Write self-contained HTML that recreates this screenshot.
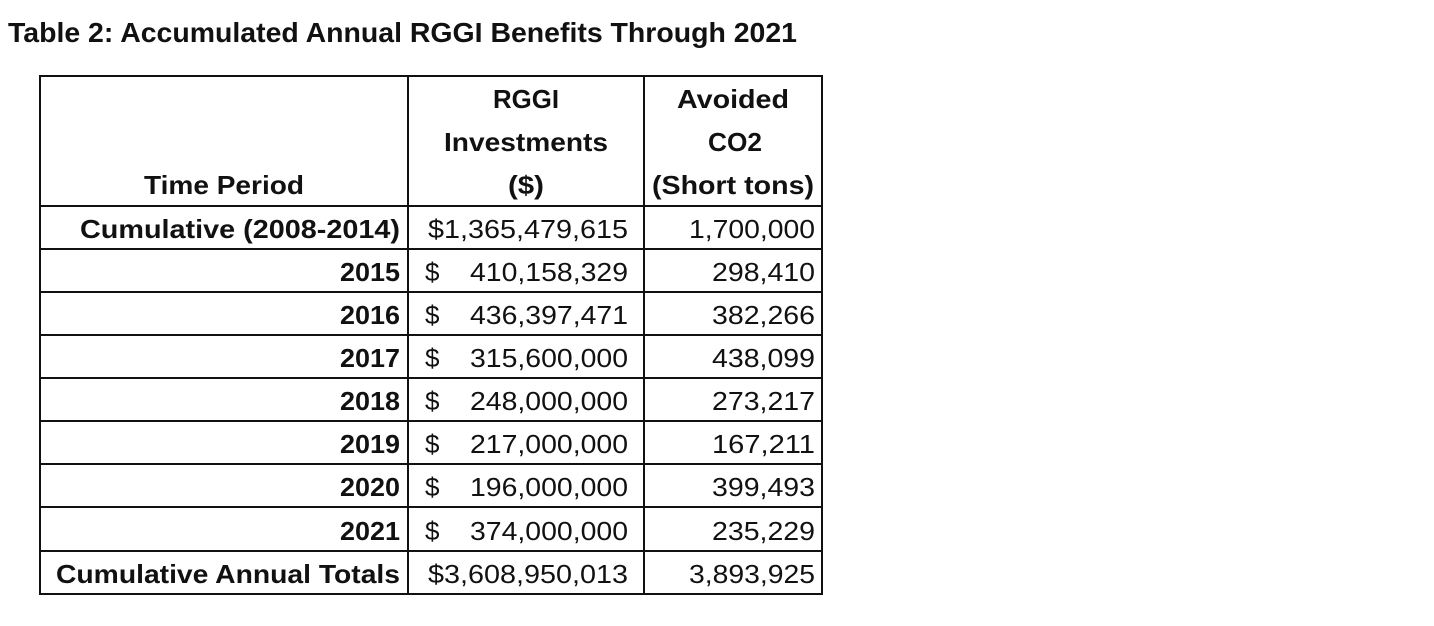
<!DOCTYPE html>
<html><head><meta charset="utf-8"><style>
html,body{margin:0;padding:0;background:#fff;width:1434px;height:626px;overflow:hidden}
svg text{font-family:"Liberation Sans",sans-serif;fill:#111;font-size:26px}
.b{font-weight:bold}
</style></head><body>
<svg width="1434" height="626" viewBox="0 0 1434 626" xmlns="http://www.w3.org/2000/svg">
<text x="8" y="42" class="b" style="font-size:28px" textLength="789" lengthAdjust="spacingAndGlyphs">Table 2: Accumulated Annual RGGI Benefits Through 2021</text>
<g stroke="#111" stroke-width="2" fill="none">
<rect x="40" y="76" width="782" height="518"/>
<line x1="408" y1="76" x2="408" y2="594"/>
<line x1="644" y1="76" x2="644" y2="594"/>
<line x1="40" y1="206" x2="822" y2="206"/>
<line x1="40" y1="249" x2="822" y2="249"/>
<line x1="40" y1="292" x2="822" y2="292"/>
<line x1="40" y1="335" x2="822" y2="335"/>
<line x1="40" y1="378" x2="822" y2="378"/>
<line x1="40" y1="421" x2="822" y2="421"/>
<line x1="40" y1="464" x2="822" y2="464"/>
<line x1="40" y1="507" x2="822" y2="507"/>
<line x1="40" y1="551" x2="822" y2="551"/>
</g>
<g>
<text x="526" y="108" text-anchor="middle" class="b" textLength="66" lengthAdjust="spacingAndGlyphs">RGGI</text>
<text x="526" y="151" text-anchor="middle" class="b" textLength="164" lengthAdjust="spacingAndGlyphs">Investments</text>
<text x="526" y="194" text-anchor="middle" class="b" textLength="36" lengthAdjust="spacingAndGlyphs">($)</text>
<text x="733" y="108" text-anchor="middle" class="b" textLength="112" lengthAdjust="spacingAndGlyphs">Avoided</text>
<text x="735" y="151" text-anchor="middle" class="b" textLength="54" lengthAdjust="spacingAndGlyphs">CO2</text>
<text x="733" y="194" text-anchor="middle" class="b" textLength="162" lengthAdjust="spacingAndGlyphs">(Short tons)</text>
<text x="224" y="194" text-anchor="middle" class="b" textLength="160" lengthAdjust="spacingAndGlyphs">Time Period</text>
<text x="400" y="238" text-anchor="end" class="b" textLength="320" lengthAdjust="spacingAndGlyphs">Cumulative (2008-2014)</text>
<text x="400" y="281" text-anchor="end" class="b" textLength="60" lengthAdjust="spacingAndGlyphs">2015</text>
<text x="400" y="324" text-anchor="end" class="b" textLength="60" lengthAdjust="spacingAndGlyphs">2016</text>
<text x="400" y="367" text-anchor="end" class="b" textLength="60" lengthAdjust="spacingAndGlyphs">2017</text>
<text x="400" y="410" text-anchor="end" class="b" textLength="60" lengthAdjust="spacingAndGlyphs">2018</text>
<text x="400" y="453" text-anchor="end" class="b" textLength="60" lengthAdjust="spacingAndGlyphs">2019</text>
<text x="400" y="496" text-anchor="end" class="b" textLength="60" lengthAdjust="spacingAndGlyphs">2020</text>
<text x="400" y="540" text-anchor="end" class="b" textLength="60" lengthAdjust="spacingAndGlyphs">2021</text>
<text x="400" y="583" text-anchor="end" class="b" textLength="344" lengthAdjust="spacingAndGlyphs">Cumulative Annual Totals</text>
</g>
<g>
<text x="628" y="238" text-anchor="end" textLength="200" lengthAdjust="spacingAndGlyphs">$1,365,479,615</text>
<text x="425" y="281">$</text><text x="628" y="281" text-anchor="end" textLength="158" lengthAdjust="spacingAndGlyphs">410,158,329</text>
<text x="425" y="324">$</text><text x="628" y="324" text-anchor="end" textLength="158" lengthAdjust="spacingAndGlyphs">436,397,471</text>
<text x="425" y="367">$</text><text x="628" y="367" text-anchor="end" textLength="158" lengthAdjust="spacingAndGlyphs">315,600,000</text>
<text x="425" y="410">$</text><text x="628" y="410" text-anchor="end" textLength="158" lengthAdjust="spacingAndGlyphs">248,000,000</text>
<text x="425" y="453">$</text><text x="628" y="453" text-anchor="end" textLength="158" lengthAdjust="spacingAndGlyphs">217,000,000</text>
<text x="425" y="496">$</text><text x="628" y="496" text-anchor="end" textLength="158" lengthAdjust="spacingAndGlyphs">196,000,000</text>
<text x="425" y="540">$</text><text x="628" y="540" text-anchor="end" textLength="158" lengthAdjust="spacingAndGlyphs">374,000,000</text>
<text x="628" y="583" text-anchor="end" textLength="200" lengthAdjust="spacingAndGlyphs">$3,608,950,013</text>
<text x="815" y="238" text-anchor="end" textLength="126" lengthAdjust="spacingAndGlyphs">1,700,000</text>
<text x="815" y="281" text-anchor="end" textLength="103" lengthAdjust="spacingAndGlyphs">298,410</text>
<text x="815" y="324" text-anchor="end" textLength="103" lengthAdjust="spacingAndGlyphs">382,266</text>
<text x="815" y="367" text-anchor="end" textLength="103" lengthAdjust="spacingAndGlyphs">438,099</text>
<text x="815" y="410" text-anchor="end" textLength="103" lengthAdjust="spacingAndGlyphs">273,217</text>
<text x="815" y="453" text-anchor="end" textLength="103" lengthAdjust="spacingAndGlyphs">167,211</text>
<text x="815" y="496" text-anchor="end" textLength="103" lengthAdjust="spacingAndGlyphs">399,493</text>
<text x="815" y="540" text-anchor="end" textLength="103" lengthAdjust="spacingAndGlyphs">235,229</text>
<text x="815" y="583" text-anchor="end" textLength="126" lengthAdjust="spacingAndGlyphs">3,893,925</text>
</g>
</svg>
</body></html>
